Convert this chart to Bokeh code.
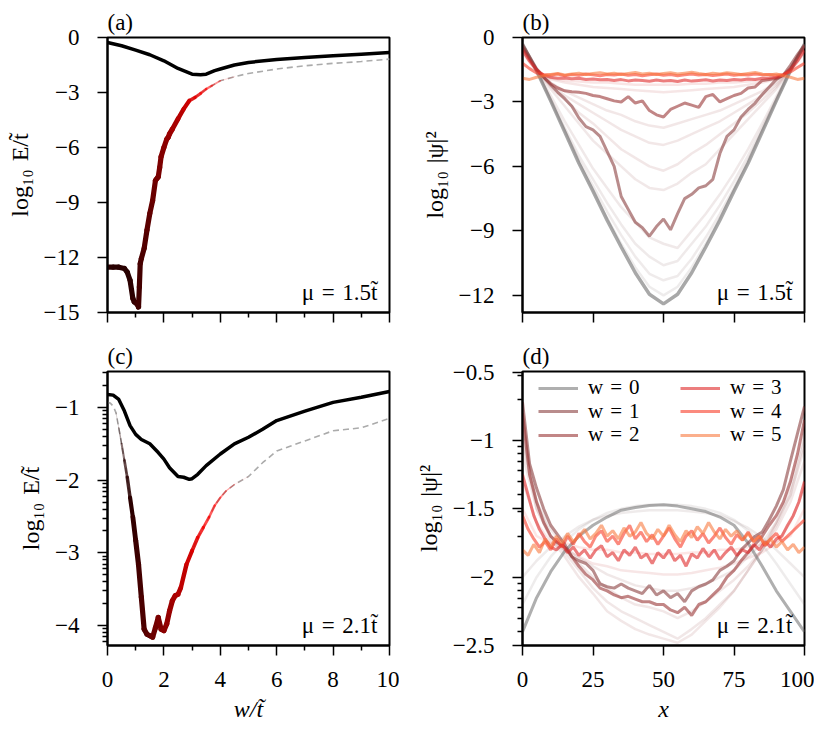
import numpy as np
from bokeh.plotting import figure
from bokeh.layouts import row, column
from bokeh.models import (FixedTicker, CustomJSTickFormatter, Label, Legend,
                          LegendItem, ColumnDataSource, Range1d)
from bokeh.embed import file_html
from bokeh.resources import INLINE

# ---------------- data: panel (a), mu = 1.5 ----------------
W_A_BULK = [0, 0.5, 1.0, 1.5, 2.0, 2.5, 3.0, 3.3, 3.5, 3.8, 4.0, 4.5, 5.0, 6.0, 7.0, 8.0, 9.0, 10.0]
E_A_BULK = [-0.27, -0.45, -0.69, -0.94, -1.27, -1.69, -2.0, -2.03, -2.0, -1.81, -1.72, -1.5, -1.36,
            -1.2, -1.09, -1.0, -0.91, -0.82]
W_A_EDGE = [0, 0.2, 0.4, 0.6, 0.7, 0.8, 0.9, 0.95, 1.0, 1.05, 1.1, 1.13, 1.16, 1.2, 1.3, 1.4, 1.5,
            1.6, 1.7, 1.75, 1.8, 1.85, 1.9, 2.0, 2.1, 2.15, 2.2, 2.3, 2.5, 2.7, 2.9, 3.1, 3.3, 3.5,
            3.7, 4.0, 4.5, 5.0, 6.0, 7.0, 8.0, 9.0, 10.0]
E_A_EDGE = [-12.52, -12.52, -12.53, -12.6, -12.8, -13.24, -14.24, -14.42, -14.47, -14.55, -14.7,
            -13.6, -12.33, -12.06, -11.5, -10.5, -9.6, -8.9, -7.8, -7.7, -7.6, -7.1, -6.5, -6.0,
            -5.55, -5.45, -5.26, -5.0, -4.44, -3.9, -3.45, -3.27, -3.05, -2.81, -2.63, -2.36,
            -2.14, -1.96, -1.72, -1.54, -1.41, -1.31, -1.18]

# ---------------- data: panel (c), mu = 2.1 ----------------
W_C_BULK = [0, 0.2, 0.4, 0.6, 0.8, 1.0, 1.2, 1.5, 1.8, 2.0, 2.2, 2.5, 2.7, 2.9, 3.0, 3.2, 3.5,
            4.0, 4.5, 5.0, 5.5, 6.0, 7.0, 8.0, 9.0, 10.0]
E_C_BULK = [-0.82, -0.83, -0.89, -1.05, -1.25, -1.37, -1.44, -1.5, -1.62, -1.71, -1.83, -1.95,
            -1.96, -1.99, -1.98, -1.92, -1.8, -1.64, -1.5, -1.41, -1.3, -1.18, -1.05, -0.93,
            -0.86, -0.78]
W_C_EDGE = [0, 0.1, 0.2, 0.3, 0.4, 0.5, 0.6, 0.7, 0.8, 0.9, 1.0, 1.1, 1.2, 1.3, 1.4, 1.5, 1.6,
            1.7, 1.8, 1.9, 2.0, 2.1, 2.2, 2.3, 2.4, 2.5, 2.6, 2.8, 3.0, 3.2, 3.4, 3.6, 3.8, 4.0,
            4.2, 4.5, 5.0, 5.5, 6.0, 6.5, 7.0, 8.0, 8.5, 9.0, 10.0]
E_C_EDGE = [-0.93, -0.94, -0.98, -1.07, -1.28, -1.5, -1.73, -1.96, -2.24, -2.51,
            -2.83, -3.16, -3.61, -4.05, -4.12, -4.14, -4.16, -4.03, -3.89, -4.05,
            -4.07, -3.98, -3.8, -3.66, -3.59, -3.57, -3.48,
            -3.16, -2.97, -2.79, -2.65, -2.51, -2.35, -2.24, -2.15,
            -2.06, -1.95, -1.76, -1.6, -1.53, -1.46, -1.32, -1.3, -1.28, -1.15]

# ---------------- data: panels (b) and (d), wavefunctions ----------------
X5 = [0, 5, 10, 15, 20, 25, 30, 35, 40, 45, 50, 55, 60, 65, 70, 75, 80, 85, 90, 95, 100]
X25 = [i * 2.5 for i in range(41)]
X2 = [i * 2 for i in range(51)]

W_LABELS = [0, 1, 2, 3, 4, 5]

# panel (b)
B_W0 = [-0.3, -1.55, -2.95, -4.4, -5.85, -7.15, -8.5, -9.75, -10.95, -11.95, -12.4, -11.95,
        -10.95, -9.75, -8.5, -7.15, -5.85, -4.4, -2.95, -1.55, -0.3]
B_W1 = [-0.35, -0.9, -1.45, -1.85, -2.2, -2.55, -2.85, -3.2, -3.75, -4.15,
        -4.3, -4.6, -5.3, -6.0, -7.4, -8.0, -8.6, -8.85, -9.25, -8.8,
        -8.45, -8.95, -8.2, -7.5, -7.3, -7.0, -6.9, -6.6, -5.4, -4.6,
        -4.3, -3.7, -3.35, -3.05, -2.65, -2.3, -1.95, -1.75, -1.3, -0.8, -0.35]
B_W2 = [-0.45, -1.0, -1.5, -1.85, -2.15, -2.35, -2.48, -2.52, -2.55, -2.6,
        -2.7, -2.75, -2.85, -2.95, -3.0, -2.75, -3.05, -2.95, -3.4, -3.6,
        -3.7, -3.35, -3.2, -3.05, -3.15, -3.25, -2.75, -2.65, -3.0, -2.85,
        -2.7, -2.6, -2.35, -2.3, -2.0, -1.95, -1.9, -1.75, -1.45, -0.9, -0.4]
B_W3 = [-0.6, -1.1, -1.5, -1.75, -1.85, -1.9, -1.88, -1.92, -1.9, -1.95,
        -1.93, -1.97, -1.95, -2.0, -1.96, -2.02, -1.98, -2.0, -2.04, -1.98,
        -2.02, -2.0, -2.05, -1.98, -2.03, -2.0, -1.97, -2.02, -1.98, -2.0,
        -1.95, -1.98, -1.93, -1.95, -1.9, -1.88, -1.85, -1.75, -1.5, -1.1, -0.6]
B_W4 = [-1.2, -1.45, -1.65, -1.72, -1.75, -1.7, -1.78, -1.72, -1.76, -1.7,
        -1.74, -1.78, -1.72, -1.75, -1.7, -1.76, -1.72, -1.78, -1.73, -1.7,
        -1.76, -1.72, -1.78, -1.74, -1.7, -1.75, -1.72, -1.77, -1.73, -1.7,
        -1.76, -1.72, -1.75, -1.7, -1.74, -1.72, -1.76, -1.72, -1.6, -1.4, -1.2]
B_W5 = [-1.9, -1.95, -1.85, -1.78, -1.72, -1.68, -1.74, -1.7, -1.66, -1.72,
        -1.68, -1.64, -1.7, -1.66, -1.72, -1.67, -1.63, -1.7, -1.66, -1.72,
        -1.68, -1.64, -1.7, -1.66, -1.62, -1.68, -1.72, -1.66, -1.7, -1.64,
        -1.68, -1.72, -1.67, -1.63, -1.7, -1.74, -1.7, -1.78, -1.85, -1.95, -1.9]
# faint intermediate-w curves in (b), on X5
B_FAINT_W = [0.2, 0.4, 0.6, 0.8, 1.2, 1.4, 1.6, 1.8, 2.4, 2.7]
B_FAINT = [
    [-0.3, -1.55, -2.95, -4.35, -5.8, -7.1, -8.4, -9.6, -10.7, -11.6, -12.0, -11.6, -10.7, -9.6, -8.4, -7.1, -5.8, -4.35, -2.95, -1.55, -0.3],
    [-0.3, -1.55, -2.9, -4.3, -5.7, -6.9, -8.1, -9.2, -10.2, -11.0, -11.3, -11.1, -10.3, -9.3, -8.2, -7.0, -5.7, -4.3, -2.9, -1.55, -0.3],
    [-0.3, -1.5, -2.85, -4.2, -5.5, -6.6, -7.7, -8.7, -9.6, -10.2, -10.6, -10.4, -9.6, -8.8, -7.8, -6.7, -5.5, -4.2, -2.85, -1.5, -0.3],
    [-0.35, -1.5, -2.7, -3.9, -5.0, -6.1, -7.0, -7.9, -8.6, -9.3, -9.6, -9.8, -9.0, -8.2, -7.3, -6.3, -5.2, -4.0, -2.75, -1.5, -0.35],
    [-0.4, -1.5, -2.4, -3.2, -4.0, -4.8, -5.4, -6.0, -6.6, -7.0, -7.1, -6.8, -6.3, -5.9, -5.2, -4.5, -3.8, -3.1, -2.4, -1.5, -0.4],
    [-0.4, -1.5, -2.3, -2.9, -3.5, -4.0, -4.6, -5.2, -5.6, -6.0, -6.2, -5.9, -5.4, -5.0, -4.5, -4.0, -3.5, -2.9, -2.3, -1.5, -0.4],
    [-0.45, -1.5, -2.2, -2.7, -3.1, -3.5, -3.9, -4.3, -4.6, -4.9, -5.0, -4.8, -4.5, -4.2, -3.9, -3.5, -3.1, -2.7, -2.2, -1.5, -0.45],
    [-0.45, -1.5, -2.1, -2.5, -2.8, -3.1, -3.4, -3.6, -3.9, -4.1, -4.2, -4.0, -3.8, -3.6, -3.4, -3.1, -2.8, -2.5, -2.1, -1.5, -0.45],
    [-0.6, -1.55, -1.95, -2.1, -2.2, -2.3, -2.35, -2.4, -2.45, -2.5, -2.55, -2.5, -2.45, -2.4, -2.35, -2.3, -2.2, -2.1, -1.95, -1.55, -0.6],
    [-0.7, -1.6, -1.9, -2.0, -2.05, -2.1, -2.1, -2.15, -2.2, -2.2, -2.2, -2.2, -2.15, -2.15, -2.1, -2.1, -2.05, -2.0, -1.9, -1.6, -0.7],
]

# panel (d)
D_W0 = [-2.4, -2.15, -1.96, -1.81, -1.7, -1.62, -1.56, -1.51, -1.49, -1.475, -1.47, -1.48, -1.5,
        -1.52, -1.56, -1.62, -1.75, -1.92, -2.1, -2.25, -2.4]
D_W1 = [-0.72, -1.17, -1.35, -1.5, -1.62, -1.69, -1.76, -1.85, -1.88, -1.9,
        -1.95, -2.05, -2.07, -2.08, -2.05, -2.08, -2.1, -2.12, -2.06, -2.13,
        -2.1, -2.15, -2.12, -2.18, -2.1, -2.07, -2.05, -2.02, -1.95, -1.92,
        -1.88, -1.8, -1.75, -1.7, -1.67, -1.58, -1.48, -1.36, -1.15, -0.95, -0.75]
D_W2 = [-0.8, -1.25, -1.45, -1.6, -1.7, -1.75, -1.78, -1.85, -1.92, -1.98,
        -2.02, -2.08, -2.1, -2.13, -2.15, -2.14, -2.16, -2.18, -2.18, -2.2,
        -2.2, -2.24, -2.26, -2.22, -2.28, -2.2, -2.18, -2.13, -2.08, -2.0,
        -1.95, -1.88, -1.82, -1.76, -1.7, -1.62, -1.55, -1.45, -1.3, -1.1, -0.85]
D_W3 = [-1.25, -1.4, -1.55, -1.65, -1.72, -1.78, -1.8, -1.76, -1.82, -1.78,
        -1.84, -1.8, -1.86, -1.8, -1.77, -1.85, -1.82, -1.88, -1.8, -1.84,
        -1.78, -1.86, -1.83, -1.9, -1.82, -1.86, -1.8, -1.88, -1.84, -1.92,
        -1.83, -1.86, -1.79, -1.85, -1.8, -1.87, -1.82, -1.78, -1.84, -1.8,
        -1.82, -1.76, -1.8, -1.74, -1.78, -1.72, -1.7, -1.62, -1.55, -1.45, -1.3]
D_W4 = [-1.55, -1.65, -1.72, -1.78, -1.74, -1.8, -1.72, -1.78, -1.7, -1.76,
        -1.68, -1.74, -1.78, -1.7, -1.66, -1.74, -1.7, -1.76, -1.68, -1.62,
        -1.72, -1.67, -1.74, -1.69, -1.76, -1.7, -1.64, -1.72, -1.78, -1.7,
        -1.66, -1.73, -1.68, -1.75, -1.7, -1.64, -1.71, -1.76, -1.69, -1.73,
        -1.67, -1.74, -1.7, -1.77, -1.72, -1.68, -1.74, -1.7, -1.66, -1.62, -1.58]
D_W5 = [-1.8, -1.84, -1.76, -1.82, -1.72, -1.78, -1.7, -1.75, -1.68, -1.74,
        -1.7, -1.65, -1.72, -1.68, -1.62, -1.7, -1.66, -1.72, -1.64, -1.7,
        -1.67, -1.6, -1.68, -1.72, -1.65, -1.7, -1.62, -1.69, -1.74, -1.66,
        -1.71, -1.63, -1.68, -1.6, -1.67, -1.72, -1.65, -1.7, -1.66, -1.73,
        -1.68, -1.74, -1.7, -1.76, -1.72, -1.78, -1.74, -1.8, -1.76, -1.82, -1.78]
D_FAINT_W = [0.3, 0.5, 0.9, 1.3, 1.5, 1.7, 2.5, 3.5]
D_FAINT = [
    [-2.2, -2.0, -1.85, -1.74, -1.65, -1.58, -1.53, -1.5, -1.48, -1.47, -1.47, -1.47, -1.48, -1.5, -1.53, -1.58, -1.66, -1.76, -1.9, -2.05, -2.2],
    [-2.0, -1.88, -1.78, -1.7, -1.63, -1.58, -1.55, -1.53, -1.52, -1.51, -1.51, -1.51, -1.52, -1.53, -1.55, -1.59, -1.64, -1.71, -1.8, -1.9, -2.0],
    [-1.0, -1.45, -1.65, -1.78, -1.86, -1.92, -1.98, -2.02, -2.06, -2.08, -2.1, -2.1, -2.08, -2.05, -2.0, -1.95, -1.85, -1.75, -1.6, -1.4, -1.0],
    [-0.9, -1.45, -1.7, -1.82, -1.95, -2.08, -2.18, -2.25, -2.3, -2.35, -2.4, -2.45, -2.38, -2.3, -2.2, -2.1, -1.95, -1.8, -1.6, -1.35, -0.95],
    [-1.0, -1.5, -1.72, -1.85, -2.0, -2.12, -2.25, -2.32, -2.38, -2.42, -2.45, -2.48, -2.42, -2.32, -2.22, -2.1, -1.95, -1.8, -1.62, -1.4, -1.05],
    [-1.1, -1.5, -1.7, -1.8, -1.9, -2.0, -2.08, -2.15, -2.2, -2.22, -2.25, -2.3, -2.25, -2.18, -2.1, -2.02, -1.92, -1.8, -1.65, -1.45, -1.15],
    [-1.3, -1.6, -1.75, -1.8, -1.85, -1.9, -1.92, -1.95, -1.96, -1.97, -1.98, -1.98, -1.97, -1.95, -1.93, -1.9, -1.86, -1.82, -1.75, -1.6, -1.35],
    [-1.5, -1.7, -1.75, -1.75, -1.78, -1.8, -1.8, -1.82, -1.82, -1.83, -1.83, -1.83, -1.82, -1.82, -1.8, -1.8, -1.78, -1.76, -1.74, -1.7, -1.5],
]

# ---------------- styling ----------------
FONT = "Liberation Serif"
FS = "23px"
FS_LAB = "24px"
FS_LEG = "21px"
FW = 282
W_COLORS = ["#6e6e6e", "#8a4040", "#9a3535", "#e02828", "#f83c28", "#f87a40"]
SP = "\u2004"


def hex2rgb(h):
    return np.array([int(h[i:i + 2], 16) for i in (1, 3, 5)], dtype=float)


def wcolor(w):
    w = min(max(w, 0), 5)
    i = min(int(np.floor(w)), 4)
    t = w - i
    c = (1 - t) * hex2rgb(W_COLORS[i]) + t * hex2rgb(W_COLORS[i + 1])
    return "#%02x%02x%02x" % tuple(int(round(v)) for v in c)


minus_fmt = CustomJSTickFormatter(code="return tick < 0 ? '\u2212' + Math.abs(tick) : '' + tick;")


def blank_fmt():
    return CustomJSTickFormatter(code="return '';")


def log_minor(lo, hi):
    out = []
    for d in range(-6, 1):
        for k in range(2, 10):
            v = d + np.log10(k)
            if lo < v < hi:
                out.append(float(v))
    return out


def make_fig(xr, yr, fh, left, top, bottom, xticks, xminor, yticks, yminor, show_x, letter):
    p = figure(frame_width=FW, frame_height=fh, x_range=Range1d(*xr), y_range=Range1d(*yr),
               output_backend="svg", toolbar_location=None,
               min_border_left=left, min_border_right=10, min_border_top=top,
               min_border_bottom=bottom, background_fill_color="white",
               border_fill_color="white")
    p.title.text = letter
    p.title.text_font = FONT
    p.title.text_font_size = FS
    p.title.text_font_style = "normal"
    p.title.text_color = "black"
    p.title.align = "left"
    p.title.offset = 0
    p.title.standoff = 5
    p.grid.visible = False
    p.outline_line_color = "black"
    p.outline_line_width = 2
    p.outline_line_alpha = 1
    p.xaxis.ticker = FixedTicker(ticks=xticks, minor_ticks=xminor)
    p.yaxis.ticker = FixedTicker(ticks=yticks, minor_ticks=yminor)
    p.yaxis.formatter = minus_fmt
    if show_x:
        p.xaxis.formatter = minus_fmt
    else:
        p.xaxis.formatter = blank_fmt()
    for ax in (p.xaxis[0], p.yaxis[0]):
        ax.axis_line_width = 2
        ax.axis_line_color = "black"
        ax.major_tick_line_width = 1.5
        ax.minor_tick_line_width = 1.5
        ax.major_tick_line_color = "black"
        ax.minor_tick_line_color = "black"
        ax.major_tick_out = 10
        ax.major_tick_in = 0
        ax.minor_tick_out = 5
        ax.minor_tick_in = 0
        ax.major_label_text_font = FONT
        ax.major_label_text_font_size = FS
        ax.major_label_text_color = "black"
        ax.axis_label_text_font = FONT
        ax.axis_label_text_font_size = FS_LAB
        ax.axis_label_text_font_style = "normal"
        ax.axis_label_text_color = "black"
    p.yaxis.major_label_standoff = 18
    p.yaxis.axis_label_standoff = 8
    p.xaxis.major_label_standoff = 16
    p.xaxis.axis_label_standoff = 6
    if not show_x:
        p.xaxis.major_label_text_font_size = "0px"
        p.xaxis.major_label_standoff = 0
    return p


def add_mu(p, mu):
    p.add_layout(Label(x=FW - 12, y=8, x_units="screen", y_units="screen", text=mu,
                       text_font=FONT, text_font_size=FS, text_baseline="bottom",
                       text_align="right", text_color="black"))


def ramp(w, a0, a1, b0, b1):
    up = 1.0 if a1 <= a0 else np.clip((w - a0) / (a1 - a0), 0, 1)
    down = np.clip((b1 - w) / (b1 - b0), 0, 1)
    return float(min(up, down))


def draw_gap_panel(p, wb, eb, we, ee, fade):
    p.line(we, ee, line_color="#ababab", line_width=1.6, line_dash="6 4")
    p.line(wb, eb, line_color="black", line_width=3.5)
    xs, ys, cols, wids, alps = [], [], [], [], []
    for i in range(len(we) - 1):
        wm = 0.5 * (we[i] + we[i + 1])
        f = ramp(wm, *fade)
        if f <= 0:
            continue
        r = int(40 + 215 * np.clip((wm - 0.8) / 2.7, 0, 1))
        xs.append([we[i], we[i + 1]])
        ys.append([ee[i], ee[i + 1]])
        cols.append("#%02x0000" % r)
        wids.append(0.4 + 4.8 * f)
        alps.append(min(1.0, 0.15 + 1.1 * f))
    src = ColumnDataSource(dict(xs=xs, ys=ys, c=cols, lw=wids, a=alps))
    p.multi_line("xs", "ys", source=src, line_color="c", line_width="lw", line_alpha="a",
                 line_cap="round", line_join="round")


LOG_E = "log\u2081\u2080" + SP + "E/t\u0303"
LOG_PSI = "log\u2081\u2080" + SP + "|\u03c8|\u00b2"
MU15 = "\u03bc" + SP + "=" + SP + "1.5t\u0303"
MU21 = "\u03bc" + SP + "=" + SP + "2.1t\u0303"

# ---------------- panel (a) ----------------
pa = make_fig((0, 10), (-15, 0), 275, 107, 37, 20, [0, 2, 4, 6, 8, 10], [1, 3, 5, 7, 9],
              [0, -3, -6, -9, -12, -15], [], False, "(a)")
pa.yaxis.axis_label = LOG_E
draw_gap_panel(pa, W_A_BULK, E_A_BULK, W_A_EDGE, E_A_EDGE, (-1, -0.5, 2.3, 4.4))
add_mu(pa, MU15)

# ---------------- panel (b) ----------------
pb = make_fig((0, 100), (-12.8, 0), 275, 123, 37, 20, [0, 25, 50, 75, 100], [],
              [0, -3, -6, -9, -12], [], False, "(b)")
pb.yaxis.axis_label = LOG_PSI
for wv, ys in zip(B_FAINT_W, B_FAINT):
    pb.line(X5, ys, line_color=wcolor(wv), line_width=2.5, line_alpha=0.12)
pb.line(X5, B_W0, line_color=wcolor(0), line_width=3.5, line_alpha=0.6)
for wv, ys in zip(W_LABELS[1:], [B_W1, B_W2, B_W3, B_W4, B_W5]):
    pb.line(X25, ys, line_color=wcolor(wv), line_width=3, line_alpha=0.6)
add_mu(pb, MU15)

# ---------------- panel (c) ----------------
pc = make_fig((0, 10), (-4.275, -0.505), 274, 107, 39, 85, [0, 2, 4, 6, 8, 10], [1, 3, 5, 7, 9],
              [-4, -3, -2, -1], log_minor(-4.275, -0.505), True, "(c)")
pc.yaxis.axis_label = LOG_E
pc.xaxis.axis_label = "w/t\u0303"
pc.xaxis.axis_label_text_font_style = "italic"
draw_gap_panel(pc, W_C_BULK, E_C_BULK, W_C_EDGE, E_C_EDGE, (0.3, 1.0, 2.3, 4.8))
add_mu(pc, MU21)

# ---------------- panel (d) ----------------
pd_ = make_fig((0, 100), (-2.5, -0.495), 274, 123, 39, 85, [0, 25, 50, 75, 100], [],
               [-2.5, -2, -1.5, -1, -0.5], log_minor(-2.5, -0.495), True, "(d)")
pd_.yaxis.axis_label = LOG_PSI
pd_.xaxis.axis_label = "x"
pd_.xaxis.axis_label_text_font_style = "italic"
for wv, ys in zip(D_FAINT_W, D_FAINT):
    pd_.line(X5, ys, line_color=wcolor(wv), line_width=2.5, line_alpha=0.12)
rd = [pd_.line(X5, D_W0, line_color=wcolor(0), line_width=3, line_alpha=0.55)]
for wv, xx, ys in zip(W_LABELS[1:], [X25, X25, X2, X2, X2], [D_W1, D_W2, D_W3, D_W4, D_W5]):
    rd.append(pd_.line(xx, ys, line_color=wcolor(wv), line_width=3, line_alpha=0.6))
add_mu(pd_, MU21)

# legend: two columns of three rows, one single-item legend per entry
LEG_X = [16, 158]
LEG_Y = [245, 221.5, 198]
for j in range(6):
    leg = Legend(items=[LegendItem(label="w" + SP + "=" + SP + "%d" % W_LABELS[j],
                                   renderers=[rd[j]])],
                 location=(LEG_X[j // 3], LEG_Y[j % 3]), orientation="vertical",
                 padding=0, margin=0, spacing=0,
                 glyph_width=40, glyph_height=20, label_height=20, label_standoff=10,
                 label_text_font=FONT, label_text_font_size=FS_LEG, label_text_color="black",
                 border_line_alpha=0, background_fill_alpha=0)
    pd_.add_layout(leg)

layout = column(row(pa, pb), row(pc, pd_))
open("out.html", "w").write(file_html(layout, INLINE))
